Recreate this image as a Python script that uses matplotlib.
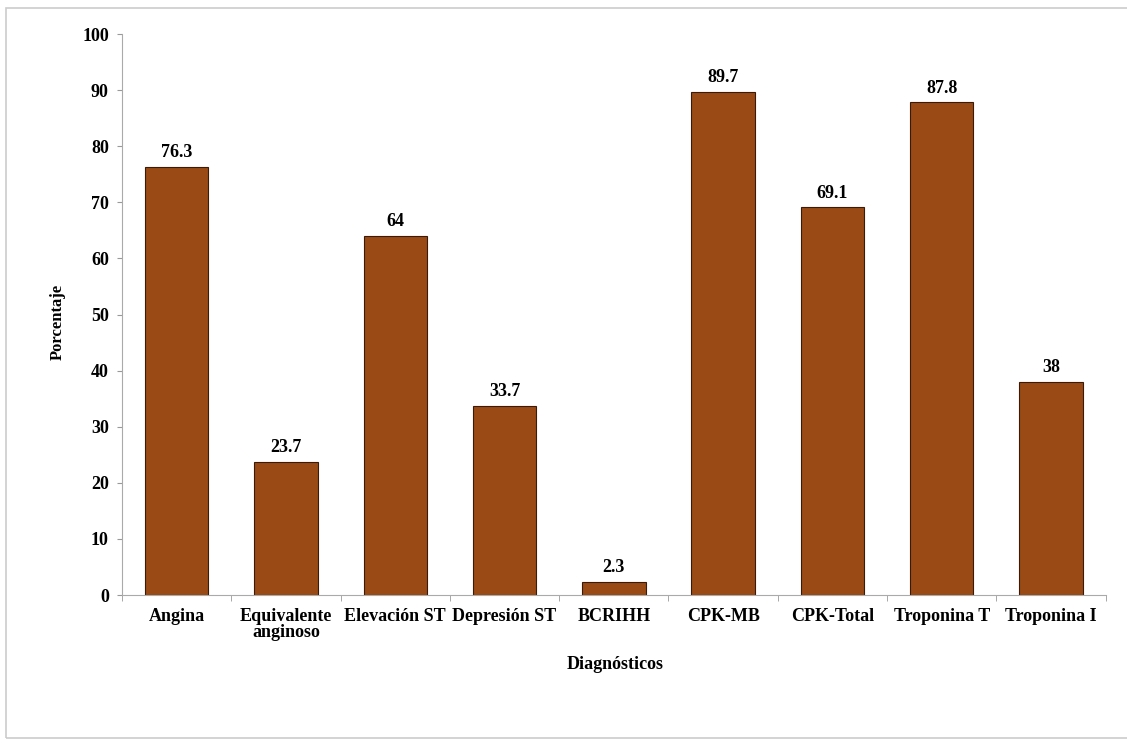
import matplotlib.pyplot as plt
from matplotlib.patches import Rectangle

categorias = ['Angina', 'Equivalente\nanginoso', 'Elevación ST', 'Depresión ST',
              'BCRIHH', 'CPK-MB', 'CPK-Total', 'Troponina T', 'Troponina I']
porcentajes = [76.3, 23.7, 64, 33.7, 2.3, 89.7, 69.1, 87.8, 38]
etiquetas = ['76.3', '23.7', '64', '33.7', '2.3', '89.7', '69.1', '87.8', '38']

plt.rcParams['font.family'] = ['Liberation Serif', 'DejaVu Serif']
plt.rcParams['font.weight'] = 'bold'

fig = plt.figure(figsize=(11.27, 7.49), dpi=100)
ax = fig.add_axes([0.1083, 0.2056, 0.8727, 0.749])

x = range(len(categorias))
ax.bar(x, porcentajes, width=0.58, color='#9a4a14', edgecolor='#3a1a08', linewidth=0.8)

for xi, v, t in zip(x, porcentajes, etiquetas):
    ax.text(xi, v + 1.0, t, ha='center', va='bottom', fontsize=13, fontweight='bold')

ax.set_xlim(-0.5, len(categorias) - 0.5)
ax.set_ylim(0, 100)
ax.set_yticks(range(0, 101, 10))
ax.tick_params(axis='y', labelsize=13, direction='out', length=3.5, color='#999999', pad=6)
ax.set_xticks(x)
ax.set_xticklabels(categorias, fontsize=13, fontweight='bold', linespacing=0.95)
ax.tick_params(axis='x', length=0, pad=9)
# tick marks between categories
ax.set_xticks([i + 0.5 for i in range(-1, len(categorias))], minor=True)
ax.tick_params(axis='x', which='minor', length=4, color='#999999', direction='out')

for s in ['top', 'right']:
    ax.spines[s].set_visible(False)
for s in ['left', 'bottom']:
    ax.spines[s].set_color('#aaaaaa')

ax.set_ylabel('Porcentaje', fontsize=12, fontweight='bold', va='center')
ax.yaxis.set_label_coords(-0.065, 0.487)
ax.set_xlabel('Diagnósticos', fontsize=13, fontweight='bold', va='center')
ax.xaxis.set_label_coords(0.5015, -0.124)

fig.patches.append(Rectangle((6 / 1127, 11 / 749), 1.0, 741 / 749 - 11 / 749,
                             transform=fig.transFigure, fill=False,
                             edgecolor='#cccccc', linewidth=1.2))

fig.savefig('out.png', dpi=100)
